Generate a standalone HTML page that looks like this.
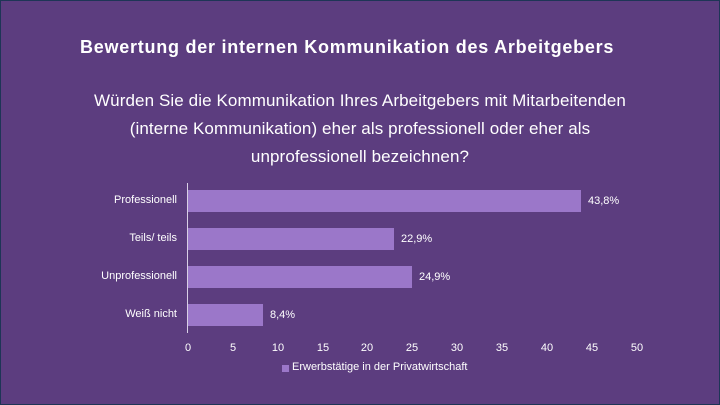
<!DOCTYPE html>
<html><head><meta charset="utf-8"><style>
body{margin:0;}
.w{position:relative;width:718px;height:403px;background:#5c3d7f;border:1px solid #1e3556;font-family:"Liberation Sans",sans-serif;color:#fff;overflow:hidden}
.t{position:absolute;left:79px;top:36px;font-size:18px;font-weight:bold;letter-spacing:0.75px}
.q{position:absolute;left:0;width:718px;top:86px;text-align:center;font-size:17px;line-height:28px;letter-spacing:0.1px}
.bar{position:absolute;left:187px;height:22px;background:#9b77c9}
.lab{position:absolute;right:542px;font-size:11px;line-height:22px}
.val{position:absolute;font-size:11px;line-height:22px}
.tk{position:absolute;top:341px;font-size:11px;width:30px;margin-left:-15px;text-align:center}
</style></head><body><div class="w">
<div class="t">Bewertung der internen Kommunikation des Arbeitgebers</div>
<div class="q">Würden Sie die Kommunikation Ihres Arbeitgebers mit Mitarbeitenden<br>(interne Kommunikation) eher als professionell oder eher als<br>unprofessionell bezeichnen?</div>
<div style="position:absolute;left:186px;top:182px;width:1px;height:150px;background:#d9d0e6"></div>
<div class="lab" style="top:188px">Professionell</div><div class="bar" style="top:189px;width:393px"></div><div class="val" style="left:587px;top:189px">43,8%</div>
<div class="lab" style="top:226px">Teils/ teils</div><div class="bar" style="top:227px;width:206px"></div><div class="val" style="left:400px;top:227px">22,9%</div>
<div class="lab" style="top:264px">Unprofessionell</div><div class="bar" style="top:265px;width:224px"></div><div class="val" style="left:418px;top:265px">24,9%</div>
<div class="lab" style="top:302px">Weiß nicht</div><div class="bar" style="top:303px;width:75px"></div><div class="val" style="left:269px;top:303px">8,4%</div>
<div class="tk" style="left:187px">0</div><div class="tk" style="left:232px">5</div><div class="tk" style="left:277px">10</div><div class="tk" style="left:322px">15</div><div class="tk" style="left:366px">20</div><div class="tk" style="left:411px">25</div><div class="tk" style="left:456px">30</div><div class="tk" style="left:501px">35</div><div class="tk" style="left:546px">40</div><div class="tk" style="left:591px">45</div><div class="tk" style="left:636px">50</div>
<div style="position:absolute;left:281px;top:364px;width:7px;height:7px;background:#9b77c9"></div>
<div style="position:absolute;left:291px;top:360px;font-size:11px">Erwerbstätige in der Privatwirtschaft</div>
</div></body></html>
